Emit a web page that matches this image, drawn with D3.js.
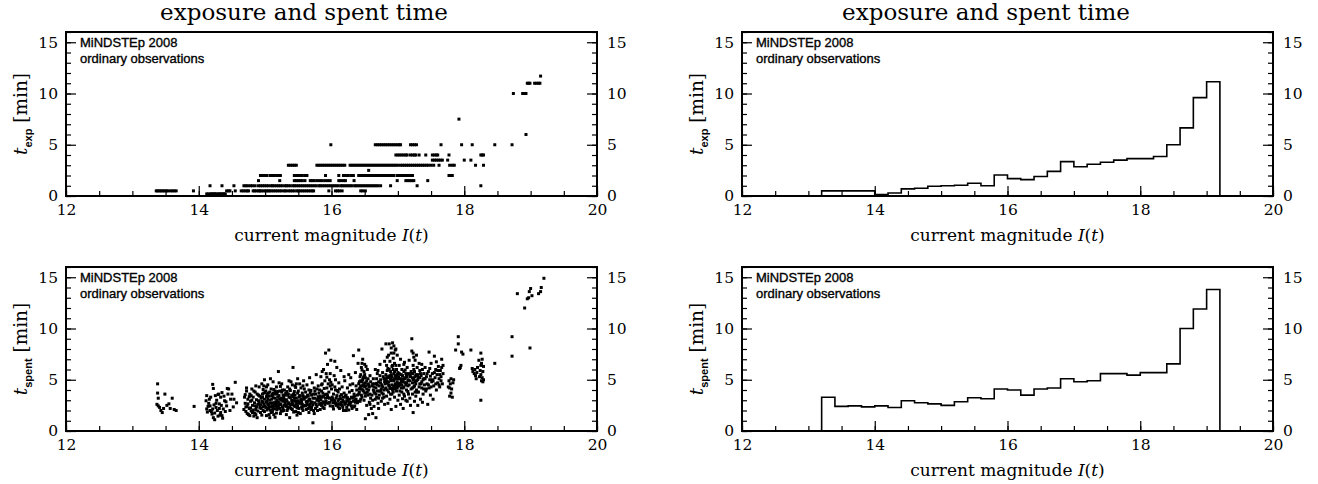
<!DOCTYPE html>
<html>
<head>
<meta charset="utf-8">
<script src="https://cdn.jsdelivr.net/npm/d3@7"></script>
<style>
  body { margin: 0; background: #fff; }
  svg { display: block; }
</style>
</head>
<body>
<div id="chart"></div>
<script>
"use strict";

// axes
const magDomain = [12, 20];
const timeDomain = [0, 16];
const magTicks = [12, 14, 16, 18, 20];
const timeTicks = [0, 5, 10, 15];
const magMinor = [12, 12.5, 13, 13.5, 14, 14.5, 15, 15.5, 16, 16.5, 17, 17.5, 18, 18.5, 19, 19.5, 20];
const timeMinor = [0, 1, 2, 3, 4, 5, 6, 7, 8, 9, 10, 11, 12, 13, 14, 15, 16];

// histogram bins (mean time per 0.2 mag bin)
const binEdges = [13.2, 13.4, 13.6, 13.8, 14.0, 14.2, 14.4, 14.6, 14.8, 15.0, 15.2, 15.4, 15.6, 15.8, 16.0,
  16.2, 16.4, 16.6, 16.8, 17.0, 17.2, 17.4, 17.6, 17.8, 18.0, 18.2, 18.4, 18.6, 18.8, 19.0, 19.2];
const texpMean = [0.5, 0.5, 0.5, 0.5, 0.15, 0.3, 0.7, 0.75, 0.95, 1.0, 1.05, 1.25, 1.0, 2.05, 1.7,
  1.6, 1.9, 2.4, 3.35, 2.85, 3.1, 3.3, 3.5, 3.65, 3.65, 3.85, 5.0, 6.65, 9.6, 11.15];
const tspentMean = [3.3, 2.4, 2.45, 2.35, 2.45, 2.3, 2.95, 2.75, 2.65, 2.5, 2.85, 3.25, 3.15, 4.1, 4.0,
  3.5, 4.1, 4.2, 5.1, 4.8, 4.9, 5.6, 5.6, 5.45, 5.7, 5.7, 6.55, 10.0, 11.9, 13.8];

// exposure times come in fixed steps: magnitudes observed at each step
const texpLevels = [0.2, 0.5, 1, 1.5, 2, 2.5, 3, 3.5, 4, 5, 6, 7.5, 10, 11, 11.7];
const texpMags = [
  [14.12, 14.14, 14.17, 14.19, 14.2, 14.22, 14.24, 14.25, 14.27, 14.3, 14.31, 14.33, 14.35, 14.37, 14.38, 14.4],
  [13.36, 13.38, 13.41, 13.43, 13.46, 13.48, 13.51, 13.53, 13.57, 13.6, 13.63, 13.66, 13.92, 14.42, 14.45, 14.47,
    14.55, 14.64, 14.67, 14.7, 14.73, 14.75, 14.82, 14.84, 14.87, 14.9, 14.92, 14.94, 14.97, 15.0, 15.02, 15.05,
    15.07, 15.1, 15.13, 15.16, 15.19, 15.22, 15.25, 15.29, 15.31, 15.35, 15.38, 15.41, 15.44, 15.48, 15.5, 15.53,
    15.56, 15.59, 15.62, 15.65, 15.68, 15.71, 15.73, 15.96, 16.06, 16.09, 16.12, 16.16, 16.44, 16.47, 16.51],
  [14.17, 14.35, 14.53, 14.68, 14.71, 14.74, 14.78, 14.81, 14.85, 14.9, 14.93, 14.96, 14.99, 15.02, 15.05, 15.09,
    15.11, 15.14, 15.17, 15.2, 15.23, 15.26, 15.3, 15.32, 15.35, 15.38, 15.42, 15.44, 15.47, 15.5, 15.53, 15.56,
    15.59, 15.62, 15.65, 15.68, 15.71, 15.74, 15.77, 15.81, 15.83, 15.86, 15.89, 15.92, 15.95, 15.98, 16.01, 16.04,
    16.07, 16.1, 16.14, 16.16, 16.19, 16.22, 16.25, 16.28, 16.31, 16.35, 16.37, 16.4, 16.43, 16.46, 16.49, 16.52,
    16.55, 16.58, 16.61, 16.64, 16.67, 16.7, 16.74, 16.89, 17.29, 18.25],
  [14.9, 15.22, 15.44, 15.47, 15.5, 15.53, 15.56, 15.6, 15.68, 15.71, 15.74, 15.78, 15.82, 15.86, 15.9, 15.94,
    15.98, 16.11, 16.14, 16.18, 16.21, 16.34, 16.99, 17.12, 17.15, 17.18, 17.21, 17.24, 17.45],
  [14.93, 14.96, 14.99, 15.03, 15.08, 15.11, 15.14, 15.18, 15.21, 15.23, 15.44, 15.47, 15.5, 15.53, 15.56, 15.6,
    15.63, 15.91, 16.11, 16.18, 16.21, 16.25, 16.29, 16.33, 16.41, 16.44, 16.47, 16.5, 16.53, 16.56, 16.59, 16.62,
    16.65, 16.68, 16.71, 16.74, 16.77, 16.79, 16.82, 16.85, 16.88, 16.91, 16.94, 16.99, 17.02, 17.05, 17.08, 17.11,
    17.14, 17.17, 17.2, 17.22, 17.77, 17.8, 17.82],
  [16.56],
  [15.35, 15.38, 15.41, 15.44, 15.47, 15.78, 15.81, 15.84, 15.87, 15.9, 15.93, 15.96, 15.99, 16.02, 16.05, 16.08,
    16.11, 16.14, 16.17, 16.2, 16.28, 16.31, 16.34, 16.37, 16.4, 16.43, 16.46, 16.49, 16.52, 16.55, 16.58, 16.61,
    16.64, 16.67, 16.7, 16.73, 16.76, 16.79, 16.82, 16.85, 16.88, 16.91, 16.94, 16.97, 17.0, 17.04, 17.07, 17.1,
    17.13, 17.16, 17.19, 17.22, 17.25, 17.28, 17.31, 17.34, 17.37, 17.4, 17.43, 17.46, 17.5, 17.54, 17.62, 17.78,
    17.82, 17.85, 18.17, 18.29],
  [17.52, 17.55, 17.58, 17.61, 17.64, 17.67, 17.75, 18.0, 18.1],
  [16.97, 17.0, 17.03, 17.06, 17.09, 17.12, 17.14, 17.19, 17.22, 17.25, 17.27, 17.32, 17.42, 17.52, 17.55, 17.58,
    17.6, 17.77, 18.25, 18.27, 18.29],
  [15.99, 16.66, 16.69, 16.72, 16.75, 16.78, 16.81, 16.84, 16.87, 16.9, 16.93, 16.96, 16.99, 17.02, 17.04, 17.19,
    17.22, 17.25, 17.28, 17.65, 17.96, 18.12, 18.46, 18.72],
  [18.93],
  [17.92],
  [18.74, 18.88, 18.9, 18.93],
  [18.95, 18.97, 18.99, 19.06, 19.09, 19.12, 19.14],
  [19.15]
];

// spent time per observation: [magnitude, minutes]
const tspentPoints = [
  [13.38, 4.6], [13.38, 3.7], [13.39, 3.2], [13.37, 2.6], [13.39, 2.45], [13.41, 2.3], [13.43, 2.0], [13.45, 1.8],
  [13.47, 2.2], [13.49, 3.6], [13.52, 2.5], [13.55, 2.65], [13.57, 2.2], [13.6, 3.2], [13.63, 2.1], [13.66, 2.0],
  [13.93, 2.4],
  [14.21, 4.55], [14.22, 4.15], [14.12, 3.45], [14.18, 3.3], [14.25, 3.45], [14.3, 3.6], [14.33, 3.3], [14.35, 3.75],
  [14.43, 4.15], [14.45, 4.1], [14.44, 3.6], [14.48, 3.1], [14.53, 3.1], [14.55, 4.75], [14.11, 2.95], [14.15, 2.7],
  [14.17, 2.45], [14.21, 2.15], [14.23, 2.55], [14.26, 2.3], [14.28, 2.0], [14.31, 2.65], [14.33, 1.8], [14.37, 2.15],
  [14.39, 2.95], [14.42, 2.45], [14.2, 1.65], [14.22, 1.3], [14.35, 1.5], [14.17, 2.0], [14.12, 2.15], [14.4, 1.9],
  [14.57, 2.75], [14.14, 2.4], [14.19, 1.9], [14.24, 1.75], [14.27, 3.0], [14.29, 1.45], [14.31, 2.2], [14.34, 2.5],
  [14.36, 1.25], [14.38, 3.4], [14.41, 2.85], [14.13, 1.85], [14.16, 3.1], [14.26, 2.7], [14.29, 3.55], [14.47, 2.0],
  [14.5, 3.6], [14.52, 2.35], [14.24, 1.1], [14.32, 1.55],
  [14.68, 2.1], [14.69, 3.3], [14.7, 2.7], [14.71, 1.9], [14.72, 3.9], [14.73, 2.4], [14.74, 3.1], [14.75, 1.6],
  [14.76, 2.2], [14.77, 3.6], [14.78, 2.9], [14.79, 1.95], [14.8, 4.1], [14.81, 2.5], [14.82, 3.3], [14.83, 1.45],
  [14.84, 2.75], [14.85, 3.8], [14.86, 2.1], [14.87, 3.05], [14.88, 1.3], [14.89, 2.6], [14.9, 3.5], [14.91, 4.3],
  [14.92, 2.3], [14.93, 1.8], [14.94, 3.2], [14.95, 4.6], [14.96, 2.8], [14.97, 2.0], [14.98, 3.7], [14.99, 5.0],
  [15.0, 2.45], [14.72, 4.2], [14.79, 3.45], [14.86, 4.4], [14.93, 2.55], [14.97, 4.05], [14.84, 1.75], [14.9, 2.95],
  [14.7, 3.55], [14.71, 2.35], [14.73, 1.7], [14.74, 2.65], [14.76, 3.35], [14.77, 1.5], [14.78, 2.25], [14.8, 3.0],
  [14.81, 1.8], [14.82, 2.05], [14.83, 3.9], [14.85, 2.45], [14.86, 1.6], [14.87, 2.35], [14.88, 3.6], [14.89, 1.95],
  [14.91, 2.7], [14.92, 3.4], [14.94, 2.2], [14.95, 1.55], [14.96, 3.3], [14.98, 2.6], [14.99, 1.9], [14.98, 4.4],
  [14.95, 2.9], [14.96, 3.6], [14.97, 2.35], [14.99, 3.1], [15.0, 3.75],
  [15.01, 3.9], [15.02, 1.5], [15.03, 2.9], [15.04, 4.5], [15.05, 2.2], [15.06, 3.4], [15.07, 1.3], [15.08, 2.7],
  [15.09, 4.1], [15.1, 3.1], [15.11, 1.9], [15.12, 4.8], [15.13, 2.5], [15.14, 3.6], [15.15, 1.35], [15.16, 2.85],
  [15.17, 4.3], [15.18, 2.1], [15.19, 3.3], [15.2, 5.8], [15.21, 2.6], [15.22, 3.9], [15.23, 1.7], [15.24, 3.0],
  [15.25, 4.6], [15.26, 2.35], [15.27, 3.5], [15.28, 2.0], [15.29, 4.0], [15.3, 2.75], [15.02, 3.35], [15.06, 2.4],
  [15.09, 1.8], [15.13, 4.05], [15.16, 3.75], [15.19, 2.3], [15.23, 4.35], [15.26, 1.95], [15.04, 2.65], [15.11, 3.55],
  [15.18, 3.0], [15.27, 2.9], [15.14, 2.15], [15.08, 5.1], [15.21, 4.7],
  [15.01, 2.8], [15.02, 4.3], [15.03, 2.05], [15.05, 3.7], [15.06, 1.6], [15.07, 3.0], [15.08, 2.35], [15.1, 2.0],
  [15.11, 2.75], [15.12, 3.25], [15.13, 1.6], [15.15, 3.9], [15.16, 2.4], [15.17, 1.75], [15.18, 3.6], [15.2, 2.85],
  [15.21, 3.45], [15.22, 2.2], [15.24, 2.55], [15.25, 3.2], [15.26, 4.0], [15.28, 3.1], [15.29, 2.5], [15.3, 3.5],
  [15.12, 2.25], [15.24, 1.95],
  [15.01, 2.3], [15.03, 3.55], [15.04, 3.15], [15.05, 2.55], [15.07, 3.8], [15.08, 2.05], [15.1, 3.45], [15.11, 2.45],
  [15.12, 3.7], [15.14, 2.75], [15.15, 3.2], [15.17, 2.6], [15.19, 3.85], [15.2, 2.4], [15.22, 3.15], [15.23, 2.65],
  [15.25, 3.8], [15.27, 2.2], [15.28, 3.35], [15.3, 3.0],
  [15.31, 3.7], [15.32, 1.6], [15.33, 2.9], [15.34, 4.3], [15.35, 2.3], [15.36, 3.3], [15.37, 1.3], [15.38, 2.6],
  [15.39, 4.8], [15.4, 3.0], [15.41, 2.1], [15.42, 6.2], [15.43, 3.6], [15.44, 2.45], [15.45, 4.4], [15.46, 1.9],
  [15.47, 3.2], [15.48, 2.7], [15.49, 5.1], [15.5, 3.9], [15.51, 2.2], [15.52, 3.45], [15.53, 1.7], [15.54, 4.2],
  [15.55, 2.85], [15.56, 3.7], [15.57, 2.0], [15.58, 4.9], [15.59, 3.1], [15.6, 2.5], [15.34, 2.15], [15.38, 3.95],
  [15.41, 2.8], [15.45, 3.5], [15.48, 1.55], [15.52, 4.6], [15.55, 2.35], [15.58, 3.3], [15.36, 4.9], [15.44, 3.85],
  [15.5, 2.95], [15.57, 4.4],
  [15.31, 2.55], [15.32, 3.05], [15.33, 2.0], [15.35, 3.6], [15.36, 2.75], [15.37, 4.1], [15.39, 2.2], [15.4, 3.5],
  [15.41, 4.5], [15.42, 2.6], [15.43, 1.85], [15.44, 3.2], [15.46, 2.9], [15.47, 4.6], [15.48, 2.25], [15.49, 3.7],
  [15.5, 1.8], [15.51, 3.3], [15.53, 2.7], [15.54, 3.0], [15.56, 2.2], [15.57, 3.45], [15.59, 4.1], [15.6, 3.3],
  [15.33, 3.85], [15.46, 4.25],
  [15.32, 2.4], [15.34, 3.5], [15.35, 2.65], [15.37, 2.35], [15.38, 3.25], [15.4, 2.55], [15.42, 3.35], [15.43, 2.95],
  [15.45, 2.4], [15.47, 2.65], [15.49, 2.45], [15.51, 2.75], [15.53, 3.4], [15.55, 3.1], [15.56, 2.6], [15.58, 2.45],
  [15.61, 3.8], [15.62, 2.1], [15.63, 4.5], [15.64, 2.9], [15.65, 3.4], [15.66, 1.8], [15.67, 5.2], [15.68, 2.6],
  [15.69, 3.95], [15.7, 2.3], [15.71, 4.7], [15.72, 0.8], [15.72, 3.2], [15.73, 2.0], [15.74, 4.2], [15.75, 2.75],
  [15.76, 3.6], [15.77, 5.5], [15.78, 2.4], [15.79, 3.1], [15.8, 4.4], [15.64, 2.55], [15.7, 3.5], [15.76, 2.2],
  [15.66, 4.0], [15.74, 1.7],
  [15.61, 2.45], [15.62, 3.3], [15.63, 2.7], [15.65, 2.2], [15.66, 3.0], [15.67, 2.4], [15.68, 3.7], [15.69, 2.1],
  [15.71, 2.8], [15.73, 3.6], [15.75, 3.9], [15.77, 2.6], [15.78, 4.1], [15.79, 2.0], [15.8, 3.35],
  [15.62, 2.85], [15.64, 3.5], [15.67, 3.1], [15.69, 2.85], [15.72, 2.55], [15.75, 3.2], [15.78, 3.0],
  [15.81, 2.9], [15.82, 4.0], [15.83, 3.4], [15.84, 5.3], [15.85, 2.5], [15.86, 4.6], [15.87, 3.7], [15.88, 6.0],
  [15.89, 2.2], [15.9, 4.9], [15.91, 7.6], [15.91, 3.2], [15.92, 5.6], [15.93, 4.2], [15.94, 6.5], [15.95, 2.7],
  [15.96, 7.9], [15.96, 3.8], [15.97, 5.0], [15.98, 4.4], [15.99, 6.9], [16.0, 3.0], [15.83, 2.1], [15.87, 2.75],
  [15.9, 3.55], [15.94, 3.45], [15.98, 2.45], [15.85, 3.9], [15.93, 5.25], [15.99, 4.75], [15.86, 5.8],
  [15.81, 3.7], [15.82, 2.6], [15.84, 3.05], [15.85, 4.5], [15.87, 2.3], [15.88, 3.4], [15.89, 4.15], [15.9, 2.55],
  [15.92, 2.9], [15.93, 3.6], [15.95, 4.6], [15.97, 3.2], [15.98, 5.6], [16.0, 4.1],
  [15.82, 3.2], [15.84, 2.7], [15.86, 3.3], [15.88, 2.85], [15.91, 2.75], [15.95, 3.25], [15.97, 2.8],
  [16.01, 4.5], [16.02, 2.4], [16.03, 3.6], [16.04, 5.4], [16.05, 6.8], [16.05, 2.9], [16.06, 4.0], [16.07, 3.2],
  [16.08, 6.2], [16.09, 2.6], [16.1, 3.8], [16.11, 4.7], [16.12, 2.2], [16.13, 3.4], [16.14, 5.9], [16.15, 2.8],
  [16.16, 4.3], [16.17, 3.0], [16.18, 2.0], [16.19, 3.7], [16.2, 4.9], [16.03, 2.15], [16.08, 3.45], [16.12, 4.1],
  [16.16, 2.5], [16.19, 5.3], [16.06, 5.0], [16.14, 3.15],
  [16.01, 3.3], [16.02, 2.75], [16.04, 3.0], [16.05, 4.3], [16.07, 2.5], [16.09, 3.95], [16.1, 2.35], [16.11, 3.1],
  [16.13, 2.65], [16.15, 3.55], [16.17, 2.3], [16.18, 3.3], [16.2, 2.6],
  [16.02, 3.15], [16.06, 2.7], [16.1, 2.9], [16.14, 2.55], [16.19, 2.85],
  [16.21, 2.7], [16.22, 3.5], [16.23, 2.3], [16.24, 4.2], [16.25, 3.0], [16.26, 2.05], [16.27, 3.8], [16.28, 2.6],
  [16.29, 5.2], [16.3, 3.3], [16.31, 2.2], [16.32, 4.6], [16.33, 7.35], [16.33, 2.9], [16.34, 3.6], [16.35, 2.45],
  [16.36, 5.7], [16.37, 3.1], [16.38, 4.0], [16.39, 2.75], [16.4, 6.6], [16.24, 3.25], [16.28, 4.5], [16.31, 3.95],
  [16.35, 3.4], [16.38, 2.1], [16.26, 5.5], [16.22, 2.0],
  [16.21, 3.4], [16.23, 2.9], [16.25, 2.55], [16.27, 3.1], [16.29, 2.8], [16.3, 2.45], [16.32, 3.2], [16.34, 2.35],
  [16.36, 2.8], [16.37, 4.4], [16.39, 3.5], [16.4, 2.9],
  [16.23, 3.2], [16.27, 2.75], [16.33, 3.3], [16.36, 3.0],
  [16.41, 7.9], [16.41, 3.6], [16.42, 4.8], [16.43, 2.9], [16.44, 5.5], [16.45, 4.1], [16.45, 6.2], [16.46, 3.3],
  [16.47, 5.0], [16.47, 7.0], [16.48, 4.5], [16.49, 5.8], [16.49, 3.0], [16.5, 6.5], [16.5, 4.3], [16.51, 1.2],
  [16.51, 5.2], [16.52, 3.7], [16.53, 2.5], [16.53, 4.9], [16.54, 6.0], [16.55, 3.5], [16.56, 1.6], [16.56, 4.0],
  [16.57, 2.8], [16.58, 5.4], [16.59, 3.2], [16.6, 2.2], [16.43, 4.2], [16.46, 5.95], [16.48, 3.9], [16.52, 6.3],
  [16.55, 4.6], [16.44, 3.1], [16.58, 2.6],
  [16.41, 4.6], [16.42, 3.8], [16.43, 5.3], [16.44, 4.4], [16.45, 3.5], [16.46, 4.8], [16.47, 4.0], [16.48, 5.2],
  [16.49, 4.6], [16.5, 5.5], [16.51, 3.4], [16.52, 4.4], [16.54, 3.8], [16.55, 5.1], [16.57, 4.3], [16.59, 4.8],
  [16.46, 6.6], [16.5, 3.7],
  [16.42, 4.1], [16.44, 4.9], [16.47, 4.4], [16.49, 5.3], [16.51, 4.7], [16.53, 4.1], [16.56, 4.5], [16.58, 3.6],
  [16.61, 4.4], [16.62, 3.0], [16.63, 5.1], [16.64, 2.4], [16.65, 3.7], [16.66, 6.0], [16.67, 1.3], [16.67, 4.2],
  [16.68, 3.3], [16.69, 5.6], [16.7, 2.7], [16.71, 4.8], [16.72, 3.5], [16.73, 6.5], [16.74, 3.9], [16.75, 2.9],
  [16.76, 8.0], [16.76, 4.5], [16.77, 3.2], [16.78, 5.3], [16.79, 4.0], [16.8, 6.8], [16.64, 3.85], [16.68, 4.65],
  [16.71, 2.2], [16.74, 5.0], [16.78, 3.6], [16.62, 1.7], [16.7, 5.9], [16.8, 2.6],
  [16.61, 3.5], [16.63, 4.0], [16.65, 4.6], [16.66, 3.1], [16.68, 5.1], [16.69, 3.9], [16.71, 3.2], [16.72, 4.4],
  [16.73, 5.4], [16.75, 4.1], [16.76, 3.7], [16.77, 5.7], [16.79, 3.3], [16.8, 4.8],
  [16.62, 4.6], [16.64, 4.3], [16.67, 3.6], [16.69, 4.5], [16.72, 3.9], [16.74, 4.7], [16.77, 4.3], [16.79, 5.1],
  [16.81, 4.1], [16.82, 8.5], [16.82, 5.5], [16.83, 3.4], [16.84, 7.2], [16.84, 4.7], [16.85, 6.1], [16.86, 3.8],
  [16.86, 5.2], [16.87, 8.5], [16.87, 4.4], [16.88, 6.8], [16.88, 3.1], [16.89, 5.8], [16.9, 4.9], [16.9, 7.6],
  [16.91, 3.6], [16.91, 6.3], [16.92, 8.6], [16.92, 5.0], [16.93, 4.2], [16.93, 7.1], [16.94, 8.3], [16.94, 5.6],
  [16.95, 3.3], [16.95, 6.6], [16.96, 4.6], [16.96, 7.9], [16.97, 5.3], [16.97, 2.4], [16.98, 6.0], [16.98, 3.9],
  [16.99, 7.4], [16.99, 4.8], [17.0, 5.7], [17.0, 3.0], [16.83, 6.4], [16.85, 2.7], [16.89, 4.15], [16.93, 6.0],
  [16.97, 4.35], [16.84, 5.9], [16.9, 2.1], [16.95, 5.1],
  [16.81, 5.0], [16.82, 4.2], [16.83, 4.9], [16.85, 5.3], [16.86, 4.5], [16.87, 6.0], [16.88, 5.4], [16.89, 3.6],
  [16.9, 5.5], [16.91, 4.5], [16.92, 6.4], [16.93, 3.8], [16.94, 4.9], [16.96, 5.4], [16.97, 6.4], [16.98, 4.6],
  [16.99, 5.5], [17.0, 4.4], [16.86, 7.4], [16.9, 8.1], [16.94, 7.6], [16.97, 8.0],
  [16.81, 4.6], [16.83, 5.2], [16.84, 4.0], [16.86, 4.8], [16.88, 4.2], [16.89, 5.1], [16.91, 5.3], [16.92, 4.0],
  [16.94, 4.4], [16.95, 5.8], [16.96, 4.1], [16.98, 5.1], [16.99, 4.2], [17.0, 5.1],
  [17.01, 4.4], [17.02, 6.4], [17.02, 3.5], [17.03, 5.1], [17.04, 7.0], [17.04, 2.6], [17.05, 4.9], [17.06, 3.8],
  [17.06, 6.0], [17.07, 5.4], [17.08, 2.2], [17.08, 4.2], [17.09, 5.8], [17.1, 3.4], [17.1, 6.7], [17.11, 4.7],
  [17.12, 3.0], [17.12, 5.6], [17.13, 4.0], [17.14, 6.2], [17.14, 2.9], [17.15, 5.0], [17.16, 3.6], [17.17, 4.5],
  [17.17, 6.9], [17.18, 3.2], [17.19, 5.3], [17.2, 4.1], [17.03, 4.65], [17.07, 3.15], [17.11, 5.95], [17.15, 3.85],
  [17.19, 2.5], [17.05, 5.5],
  [17.01, 5.3], [17.02, 4.6], [17.03, 3.9], [17.05, 4.2], [17.06, 5.1], [17.08, 4.9], [17.09, 3.6], [17.1, 5.1],
  [17.12, 4.5], [17.13, 5.4], [17.15, 4.4], [17.16, 5.6], [17.18, 4.9], [17.2, 5.8], [17.09, 6.5],
  [17.02, 5.6], [17.04, 4.5], [17.06, 4.5], [17.07, 4.8], [17.09, 4.3], [17.11, 5.2], [17.13, 4.7], [17.14, 5.3],
  [17.16, 4.9], [17.18, 5.5],
  [17.21, 9.0], [17.21, 7.8], [17.22, 5.2], [17.22, 3.6], [17.23, 1.8], [17.23, 6.4], [17.24, 4.3], [17.24, 7.2],
  [17.25, 5.8], [17.25, 2.9], [17.26, 4.8], [17.26, 6.9], [17.27, 3.4], [17.27, 5.5], [17.28, 7.4], [17.28, 4.0],
  [17.29, 6.2], [17.3, 2.5], [17.3, 5.0], [17.31, 3.8], [17.32, 6.6], [17.33, 4.6], [17.34, 3.1], [17.35, 5.4],
  [17.36, 4.2], [17.37, 6.0], [17.38, 3.6], [17.39, 5.1], [17.4, 4.5], [17.22, 4.7], [17.26, 3.8], [17.29, 5.4],
  [17.33, 5.9], [17.37, 2.8], [17.24, 6.0],
  [17.21, 5.6], [17.22, 4.2], [17.23, 5.0], [17.25, 4.4], [17.26, 5.3], [17.28, 4.9], [17.29, 3.8], [17.31, 5.2],
  [17.32, 4.3], [17.34, 5.6], [17.35, 4.6], [17.36, 6.5], [17.38, 5.0], [17.39, 4.1], [17.23, 7.6],
  [17.22, 5.6], [17.24, 5.1], [17.27, 4.6], [17.3, 5.5], [17.33, 5.2], [17.36, 4.8], [17.39, 5.6],
  [17.41, 6.2], [17.42, 3.9], [17.43, 5.3], [17.44, 4.6], [17.45, 2.6], [17.46, 5.8], [17.47, 7.7], [17.47, 4.2],
  [17.48, 5.0], [17.49, 3.5], [17.5, 6.6], [17.51, 4.8], [17.52, 5.6], [17.53, 3.1], [17.54, 4.4], [17.55, 7.3],
  [17.56, 5.2], [17.57, 6.0], [17.58, 4.0], [17.59, 5.5], [17.6, 4.7], [17.61, 6.3], [17.62, 5.1], [17.63, 4.3],
  [17.64, 5.9], [17.65, 5.3], [17.66, 7.0], [17.67, 4.6], [17.68, 5.6], [17.43, 4.1], [17.49, 5.35], [17.53, 4.9],
  [17.58, 6.75], [17.62, 4.5], [17.66, 6.2],
  [17.41, 5.1], [17.44, 5.6], [17.46, 4.5], [17.48, 6.1], [17.5, 4.3], [17.52, 5.0], [17.55, 5.7], [17.57, 4.6],
  [17.6, 5.9], [17.63, 5.5], [17.65, 4.9], [17.68, 6.4],
  [17.76, 4.3], [17.77, 4.9], [17.78, 3.4], [17.79, 4.6], [17.8, 3.7], [17.8, 5.1], [17.81, 4.1], [17.82, 3.3],
  [17.83, 4.7], [17.84, 5.0], [17.78, 4.2], [17.87, 7.9], [17.91, 9.2], [17.91, 8.5], [17.93, 6.1], [17.95, 6.4],
  [17.96, 7.7], [17.98, 7.5], [17.94, 6.2],
  [18.1, 7.9], [18.12, 6.1], [18.13, 5.8], [18.15, 5.6], [18.16, 6.0], [18.17, 5.4], [18.18, 5.1], [18.19, 5.7],
  [18.2, 6.2], [18.22, 6.9], [18.23, 5.3], [18.24, 5.9], [18.25, 7.6], [18.25, 6.4], [18.25, 5.5], [18.26, 4.9],
  [18.26, 6.6], [18.27, 5.2], [18.27, 7.0], [18.28, 5.8], [18.28, 4.8], [18.29, 6.3], [18.25, 3.0], [18.29, 5.0],
  [18.46, 6.6], [18.72, 7.3], [18.72, 9.2], [18.8, 13.4], [18.91, 12.0], [18.95, 12.9], [18.97, 13.0], [18.98, 13.6],
  [19.0, 13.9], [18.99, 8.1], [19.02, 13.2], [19.12, 13.4], [19.15, 13.6], [19.16, 14.0], [19.2, 14.9]
];

const texpPoints = texpLevels.flatMap((t, i) => texpMags[i].map((m) => [m, t]));

const W = 1318;
const H = 484;
const serif = "'DejaVu Serif', 'Liberation Serif', serif";
const sans = "'Liberation Sans', 'DejaVu Sans', sans-serif";

const svg = d3.select("#chart").append("svg").attr("width", W).attr("height", H);

const cols = [
  { left: 66, right: 597, titleX: 304 },
  { left: 742, right: 1273, titleX: 986 },
];
const rows = [
  { top: 32, bottom: 196, sub: "exp" },
  { top: 267, bottom: 431, sub: "spent" },
];

function drawPanel(col, row, kind, points, means) {
  const x = d3.scaleLinear().domain(magDomain).range([col.left, col.right]);
  const y = d3.scaleLinear().domain(timeDomain).range([row.bottom, row.top]);
  const g = svg.append("g");
  const innerH = row.bottom - row.top;
  const innerW = col.right - col.left;

  // minor + major ticks, pointing inwards
  const tickStyle = (sel) => {
    sel.select(".domain").remove();
    sel.selectAll("line").attr("stroke", "#000").attr("stroke-width", 1.2);
    sel.selectAll("text").attr("fill", "#000").style("font-family", serif).style("font-size", "15.5px");
  };
  g.append("g").attr("transform", `translate(0,${row.bottom})`)
    .call(d3.axisBottom(x).tickValues(magMinor).tickSize(-5).tickFormat(""))
    .call(tickStyle);
  g.append("g").attr("transform", `translate(0,${row.bottom})`)
    .call(d3.axisBottom(x).tickValues(magTicks).tickSize(-10).tickPadding(8).tickFormat(d3.format("d")))
    .call(tickStyle);
  g.append("g").attr("transform", `translate(${col.left},0)`)
    .call(d3.axisLeft(y).tickValues(timeMinor).tickSize(-5).tickFormat(""))
    .call(tickStyle);
  g.append("g").attr("transform", `translate(${col.left},0)`)
    .call(d3.axisLeft(y).tickValues(timeTicks).tickSize(-10).tickPadding(8).tickFormat(d3.format("d")))
    .call(tickStyle);
  g.append("g").attr("transform", `translate(${col.right},0)`)
    .call(d3.axisRight(y).tickValues(timeMinor).tickSize(-5).tickFormat(""))
    .call(tickStyle);
  g.append("g").attr("transform", `translate(${col.right},0)`)
    .call(d3.axisRight(y).tickValues(timeTicks).tickSize(-10).tickPadding(10).tickFormat(d3.format("d")))
    .call(tickStyle);

  if (kind === "scatter") {
    g.append("g").selectAll("rect").data(points).join("rect")
      .attr("x", (d) => x(d[0]) - 1.5)
      .attr("y", (d) => y(d[1]) - 1.5)
      .attr("width", 3)
      .attr("height", 3)
      .attr("fill", "#000");
  } else {
    const steps = [[binEdges[0], 0]];
    means.forEach((v, i) => {
      steps.push([binEdges[i], v], [binEdges[i + 1], v]);
    });
    steps.push([binEdges[binEdges.length - 1], 0]);
    g.append("path")
      .datum(steps)
      .attr("fill", "none")
      .attr("stroke", "#000")
      .attr("stroke-width", 1.6)
      .attr("d", d3.line().x((d) => x(d[0])).y((d) => y(d[1])));
  }

  g.append("rect")
    .attr("x", col.left).attr("y", row.top)
    .attr("width", innerW).attr("height", innerH)
    .attr("fill", "none").attr("stroke", "#000").attr("stroke-width", 2);

  // legend
  const leg = g.append("g")
    .style("font-family", sans).style("font-size", "13px")
    .attr("fill", "#000").attr("stroke", "#000").attr("stroke-width", 0.35);
  leg.append("text").attr("x", col.left + 14).attr("y", row.top + 15).text("MiNDSTEp 2008");
  leg.append("text").attr("x", col.left + 14).attr("y", row.top + 31).text("ordinary observations");

  // x label
  const xl = g.append("text")
    .attr("x", (col.left + col.right) / 2)
    .attr("y", row.bottom + 45)
    .attr("text-anchor", "middle")
    .style("font-family", serif).style("font-size", "17px");
  xl.append("tspan").text("current magnitude ");
  xl.append("tspan").style("font-style", "italic").text("I");
  xl.append("tspan").text("(");
  xl.append("tspan").style("font-style", "italic").text("t");
  xl.append("tspan").text(")");

  // y label
  const yl = g.append("text")
    .attr("transform", `translate(${col.left - 39},${(row.top + row.bottom) / 2}) rotate(-90)`)
    .attr("text-anchor", "middle")
    .style("font-family", serif).style("font-size", "18.5px");
  yl.append("tspan").style("font-style", "italic").text("t");
  yl.append("tspan").attr("dy", 5).style("font-family", sans).style("font-weight", "bold")
    .style("font-size", "11px").text(row.sub);
  yl.append("tspan").attr("dy", -5).text(" [min]");
}

drawPanel(cols[0], rows[0], "scatter", texpPoints, null);
drawPanel(cols[1], rows[0], "hist", null, texpMean);
drawPanel(cols[0], rows[1], "scatter", tspentPoints, null);
drawPanel(cols[1], rows[1], "hist", null, tspentMean);

cols.forEach((c) => {
  svg.append("text")
    .attr("x", c.titleX)
    .attr("y", 20)
    .attr("text-anchor", "middle")
    .style("font-family", serif)
    .style("font-size", "23px")
    .text("exposure and spent time");
});
</script>
</body>
</html>
